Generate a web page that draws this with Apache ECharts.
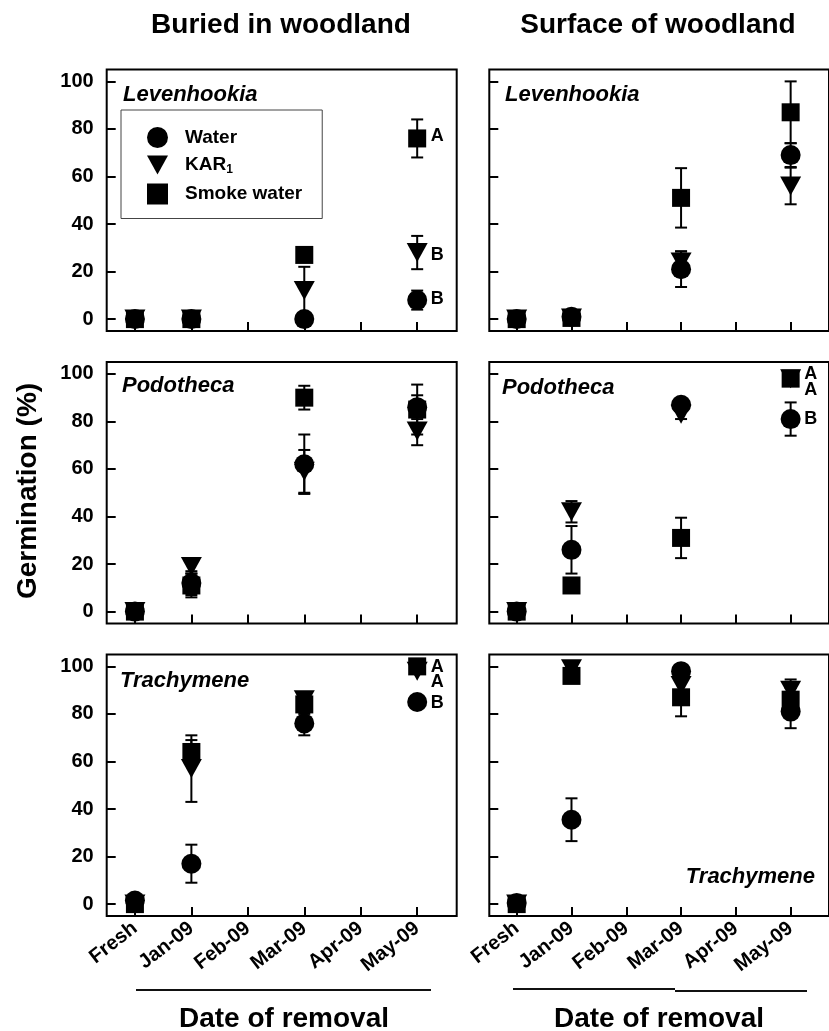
<!DOCTYPE html>
<html><head><meta charset="utf-8">
<script src="https://cdn.jsdelivr.net/npm/echarts@6/dist/echarts.min.js"></script>
<style>html,body{margin:0;padding:0;background:#fff}#c{width:829px;height:1031px}</style>
</head><body><div id="c"></div>
<script>
// ---- data ----
const categories = ['Fresh', 'Jan-09', 'Feb-09', 'Mar-09', 'Apr-09', 'May-09'];
const sampleIdx = [0, 1, 3, 5];
const yTicks = [0, 20, 40, 60, 80, 100];
const columnTitles = ['Buried in woodland', 'Surface of woodland'];
const species = ['Levenhookia', 'Podotheca', 'Trachymene'];
const seriesNames = ['Water', 'KAR1', 'Smoke water'];

// Buried – Levenhookia
const buriedLevWater = [0, 0, 0, 8];      const buriedLevWaterErr = [0.5, 0.5, 1, 4];
const buriedLevKar   = [0, 0, 12, 28];    const buriedLevKarErr   = [0, 0, 10, 7];
const buriedLevSmoke = [0, 0, 27, 76];    const buriedLevSmokeErr = [0, 0, 3, 8];
const buriedLevLetters = [['A', 77], ['B', 27], ['B', 8.5]];
// Surface – Levenhookia
const surfLevWater = [0, 1, 21, 69];      const surfLevWaterErr = [0, 1, 7.5, 5];
const surfLevKar   = [0, 0.5, 24, 56];    const surfLevKarErr   = [0, 0, 4.5, 7.7];
const surfLevSmoke = [0, 0.5, 51, 87];    const surfLevSmokeErr = [0, 0, 12.5, 13];
const surfLevLetters = [];
// Buried – Podotheca
const buriedPodWater = [0, 12, 62, 86];   const buriedPodWaterErr = [1, 5, 12.5, 5];
const buriedPodKar   = [0, 19, 59, 76];   const buriedPodKarErr   = [0, 3, 9, 6];
const buriedPodSmoke = [0, 11, 90, 85];   const buriedPodSmokeErr = [0, 5, 5, 10.5];
const buriedPodLetters = [];
// Surface – Podotheca
const surfPodWater = [0, 26, 87, 81];     const surfPodWaterErr = [0, 10, 2, 7];
const surfPodKar   = [0, 42, 83, 98];     const surfPodKarErr   = [0, 4.5, 2, 1];
const surfPodSmoke = [0, 11, 31, 98];     const surfPodSmokeErr = [0, 2, 8.5, 1.5];
const surfPodLetters = [['A', 100], ['A', 93], ['B', 81]];
// Buried – Trachymene
const buriedTraWater = [1.5, 17, 76, 85]; const buriedTraWaterErr = [1, 8, 5, 1];
const buriedTraKar   = [0, 57, 86, 98];   const buriedTraKarErr   = [0, 14, 3, 1];
const buriedTraSmoke = [0, 64, 84, 100];  const buriedTraSmokeErr = [0, 5, 4, 1];
const buriedTraLetters = [['A', 99.6], ['A', 93.6], ['B', 84.5]];
// Surface – Trachymene
const surfTraWater = [0.5, 35.5, 98, 81]; const surfTraWaterErr = [0, 9, 1, 7];
const surfTraKar   = [0, 99, 92, 90];     const surfTraKarErr   = [0, 1, 2, 4.5];
const surfTraSmoke = [0, 96, 87, 86];     const surfTraSmokeErr = [0, 2, 8, 5];
const surfTraLetters = [];

// ---- build ----
const panels = [
  {vals: [buriedLevWater, buriedLevKar, buriedLevSmoke], errs: [buriedLevWaterErr, buriedLevKarErr, buriedLevSmokeErr], letters: buriedLevLetters},
  {vals: [surfLevWater, surfLevKar, surfLevSmoke], errs: [surfLevWaterErr, surfLevKarErr, surfLevSmokeErr], letters: surfLevLetters},
  {vals: [buriedPodWater, buriedPodKar, buriedPodSmoke], errs: [buriedPodWaterErr, buriedPodKarErr, buriedPodSmokeErr], letters: buriedPodLetters},
  {vals: [surfPodWater, surfPodKar, surfPodSmoke], errs: [surfPodWaterErr, surfPodKarErr, surfPodSmokeErr], letters: surfPodLetters},
  {vals: [buriedTraWater, buriedTraKar, buriedTraSmoke], errs: [buriedTraWaterErr, buriedTraKarErr, buriedTraSmokeErr], letters: buriedTraLetters},
  {vals: [surfTraWater, surfTraKar, surfTraSmoke], errs: [surfTraWaterErr, surfTraKarErr, surfTraSmokeErr], letters: surfTraLetters}
];

const FONT = '"Liberation Sans", Arial, sans-serif';
const rowTops = [69.5, 362, 654.5];
const colLefts = [106.7, 489.3];
const GW = 350, GH = 261.5;
const symbols = ['circle', 'path://M0,0 L20,0 L10,18 Z', 'rect'];
const symSizes = [20, [21, 19], 18];

const grids = [], xAxes = [], yAxes = [], series = [];
panels.forEach((p, i) => {
  const row = Math.floor(i / 2), col = i % 2;
  grids.push({left: colLefts[col], top: rowTops[row], width: GW, height: GH,
    show: true, borderColor: '#000', borderWidth: 2, backgroundColor: 'transparent'});
  xAxes.push({type: 'value', gridIndex: i, min: -0.5, max: 5.7,
    axisLine: {show: false, onZero: false}, splitLine: {show: false},
    axisTick: {show: true, inside: true, length: 9, customValues: [0,1,2,3,4,5], lineStyle: {color: '#000', width: 2}},
    axisLabel: {show: row === 2, customValues: [0,1,2,3,4,5], rotate: 38, margin: 10,
      formatter: v => categories[Math.round(v)], fontFamily: FONT, fontSize: 20, fontWeight: 'bold', color: '#000'}});
  yAxes.push({type: 'value', gridIndex: i, min: -5, max: 105,
    axisLine: {show: false, onZero: false}, splitLine: {show: false},
    axisTick: {show: true, inside: true, length: 9, customValues: yTicks, lineStyle: {color: '#000', width: 2}},
    axisLabel: {show: col === 0, customValues: yTicks, margin: 13, fontFamily: FONT, fontSize: 20, fontWeight: 'bold', color: '#000'}});
  // error bars
  for (let s = 0; s < 3; s++) {
    series.push({type: 'custom', xAxisIndex: i, yAxisIndex: i, silent: true, z: 2,
      data: sampleIdx.map((x, k) => [x, p.vals[s][k] - p.errs[s][k], p.vals[s][k] + p.errs[s][k]]),
      encode: {x: 0, y: [1, 2]},
      renderItem: (params, api) => {
        const x = api.value(0);
        const a = api.coord([x, api.value(2)]), b = api.coord([x, api.value(1)]);
        const w = 6, st = {stroke: '#000', lineWidth: 2};
        return {type: 'group', children: [
          {type: 'line', shape: {x1: a[0], y1: a[1], x2: b[0], y2: b[1]}, style: st},
          {type: 'line', shape: {x1: a[0] - w, y1: a[1], x2: a[0] + w, y2: a[1]}, style: st},
          {type: 'line', shape: {x1: b[0] - w, y1: b[1], x2: b[0] + w, y2: b[1]}, style: st}
        ]};
      }});
  }
  for (let s = 0; s < 3; s++) {
    series.push({type: 'scatter', name: seriesNames[s], xAxisIndex: i, yAxisIndex: i, z: 3,
      symbol: symbols[s], symbolSize: symSizes[s], itemStyle: {color: '#000', opacity: 1},
      data: sampleIdx.map((x, k) => [x, p.vals[s][k]])});
  }
  if (p.letters.length) {
    series.push({type: 'scatter', xAxisIndex: i, yAxisIndex: i, z: 4, symbolSize: 1, silent: true,
      itemStyle: {color: 'rgba(0,0,0,0)', opacity: 1},
      data: p.letters.map(l => ({value: [5, l[1]], name: l[0]})),
      label: {show: true, position: 'right', distance: 13, formatter: d => d.name, opacity: 1,
        fontFamily: FONT, fontSize: 18, fontWeight: 'bold', color: '#000', textBorderWidth: 0}});
  }
});

const graphic = [
  {type: 'text', x: 281, y: 25, style: {text: columnTitles[0], font: 'bold 28px ' + FONT, fill: '#000', textAlign: 'center', textVerticalAlign: 'middle'}},
  {type: 'text', x: 658, y: 25, style: {text: columnTitles[1], font: 'bold 28px ' + FONT, fill: '#000', textAlign: 'center', textVerticalAlign: 'middle'}},
  {type: 'text', x: 123, y: 95, style: {text: species[0], font: 'italic bold 22px ' + FONT, fill: '#000', textVerticalAlign: 'middle'}},
  {type: 'text', x: 505, y: 95, style: {text: species[0], font: 'italic bold 22px ' + FONT, fill: '#000', textVerticalAlign: 'middle'}},
  {type: 'text', x: 122, y: 386, style: {text: species[1], font: 'italic bold 22px ' + FONT, fill: '#000', textVerticalAlign: 'middle'}},
  {type: 'text', x: 502, y: 388, style: {text: species[1], font: 'italic bold 22px ' + FONT, fill: '#000', textVerticalAlign: 'middle'}},
  {type: 'text', x: 120, y: 681, style: {text: species[2], font: 'italic bold 22px ' + FONT, fill: '#000', textVerticalAlign: 'middle'}},
  {type: 'text', x: 815, y: 877, style: {text: species[2], font: 'italic bold 22px ' + FONT, fill: '#000', textAlign: 'right', textVerticalAlign: 'middle'}},
  {type: 'text', x: 28, y: 491, rotation: Math.PI / 2, style: {text: 'Germination (%)', font: 'bold 28px ' + FONT, fill: '#000', textAlign: 'center', textVerticalAlign: 'middle'}},
  {type: 'line', shape: {x1: 136, y1: 990, x2: 431, y2: 990}, style: {stroke: '#111', lineWidth: 2}},
  {type: 'line', shape: {x1: 513, y1: 989, x2: 675, y2: 989}, style: {stroke: '#111', lineWidth: 2}},
  {type: 'line', shape: {x1: 675, y1: 991, x2: 807, y2: 991}, style: {stroke: '#111', lineWidth: 2}},
  {type: 'text', x: 284, y: 1019, style: {text: 'Date of removal', font: 'bold 28px ' + FONT, fill: '#000', textAlign: 'center', textVerticalAlign: 'middle'}},
  {type: 'text', x: 659, y: 1019, style: {text: 'Date of removal', font: 'bold 28px ' + FONT, fill: '#000', textAlign: 'center', textVerticalAlign: 'middle'}}
];

const chart = echarts.init(document.getElementById('c'), null, {renderer: 'canvas'});
chart.setOption({
  animation: false,
  backgroundColor: '#fff',
  grid: grids, xAxis: xAxes, yAxis: yAxes, series: series, graphic: graphic,
  legend: {
    data: seriesNames, orient: 'vertical', left: 121, top: 110,
    padding: [17, 20, 14, 26], itemGap: 7.5, itemWidth: 21, itemHeight: 21,
    borderColor: '#444', borderWidth: 1, backgroundColor: '#fff',
    formatter: n => n === 'KAR1' ? '{t|KAR}{s|1}' : '{t|' + n + '}',
    textStyle: {fontFamily: FONT, fontSize: 19, fontWeight: 'bold', color: '#000',
      rich: {t: {fontFamily: FONT, fontSize: 19, fontWeight: 'bold', color: '#000', padding: [0, 0, 0, 12]},
             s: {fontFamily: FONT, fontSize: 12, fontWeight: 'bold', color: '#000', padding: [10, 0, 0, 0]}}}
  }
});
</script></body></html>
